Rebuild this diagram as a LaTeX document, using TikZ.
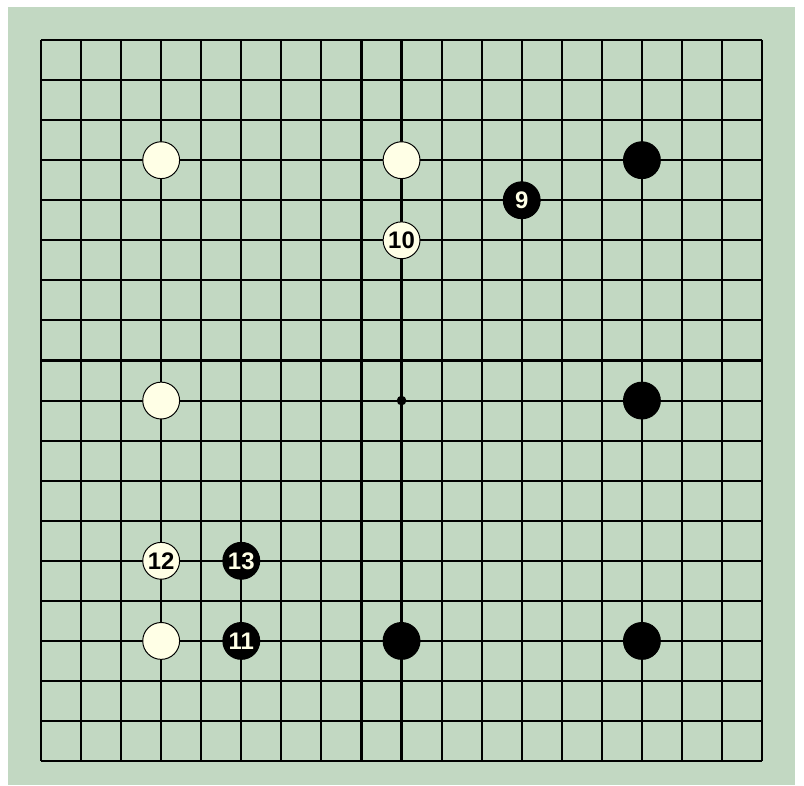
\documentclass[tikz,border=0pt]{standalone}
\usepackage{fontspec}
\setsansfont{Liberation Sans}
\usepackage{tikz}
\usetikzlibrary{positioning}

\definecolor{boardgreen}{HTML}{C2D8C2}
\definecolor{stonecream}{HTML}{FFFFE6}

\begin{document}
\begin{tikzpicture}[x=1cm, y=-1cm,
    wstone/.style={circle, draw=black, line width=0.7pt, fill=stonecream,
      minimum size=0.92cm, inner sep=0pt,
      font=\sffamily\bfseries\fontsize{17}{17}\selectfont},
    bstone/.style={wstone, fill=black, text=stonecream}]
  \useasboundingbox (-1.023,-0.9985) rectangle (19.046,18.597);
  % ---------- board ----------
  \fill[boardgreen] (-0.824,-0.824) rectangle (18.82,18.597);
  \foreach \i in {0,...,18} {
    \draw[line width=1.5pt] (\i,0) -- (\i,18);
    \draw[line width=1.5pt] (0,\i) -- (18,\i);
  }
  \fill (9,9) circle (0.12);
  % ---------- stones ----------
  \node[wstone] (w1) at (3,3) {};
  \node[wstone] (w2) at (9,3) {};
  \node[wstone] (w3) at (3,9) {};
  \node[wstone] (w4) at (3,15) {};
  \node[bstone] (b1) at (15,3) {};
  \node[bstone] (b2) at (15,9) {};
  \node[bstone] (b3) at (9,15) {};
  \node[bstone] (b4) at (15,15) {};
  % ---------- numbered moves ----------
  \node[bstone] (m9) at (12,4) {9};
  \node[wstone] (m10) at (9,5) {10};
  \node[bstone] (m11) at (5,15) {11};
  \node[wstone] (m12) at (3,13) {12};
  \node[bstone] (m13) at (5,13) {13};
\end{tikzpicture}
\end{document}
